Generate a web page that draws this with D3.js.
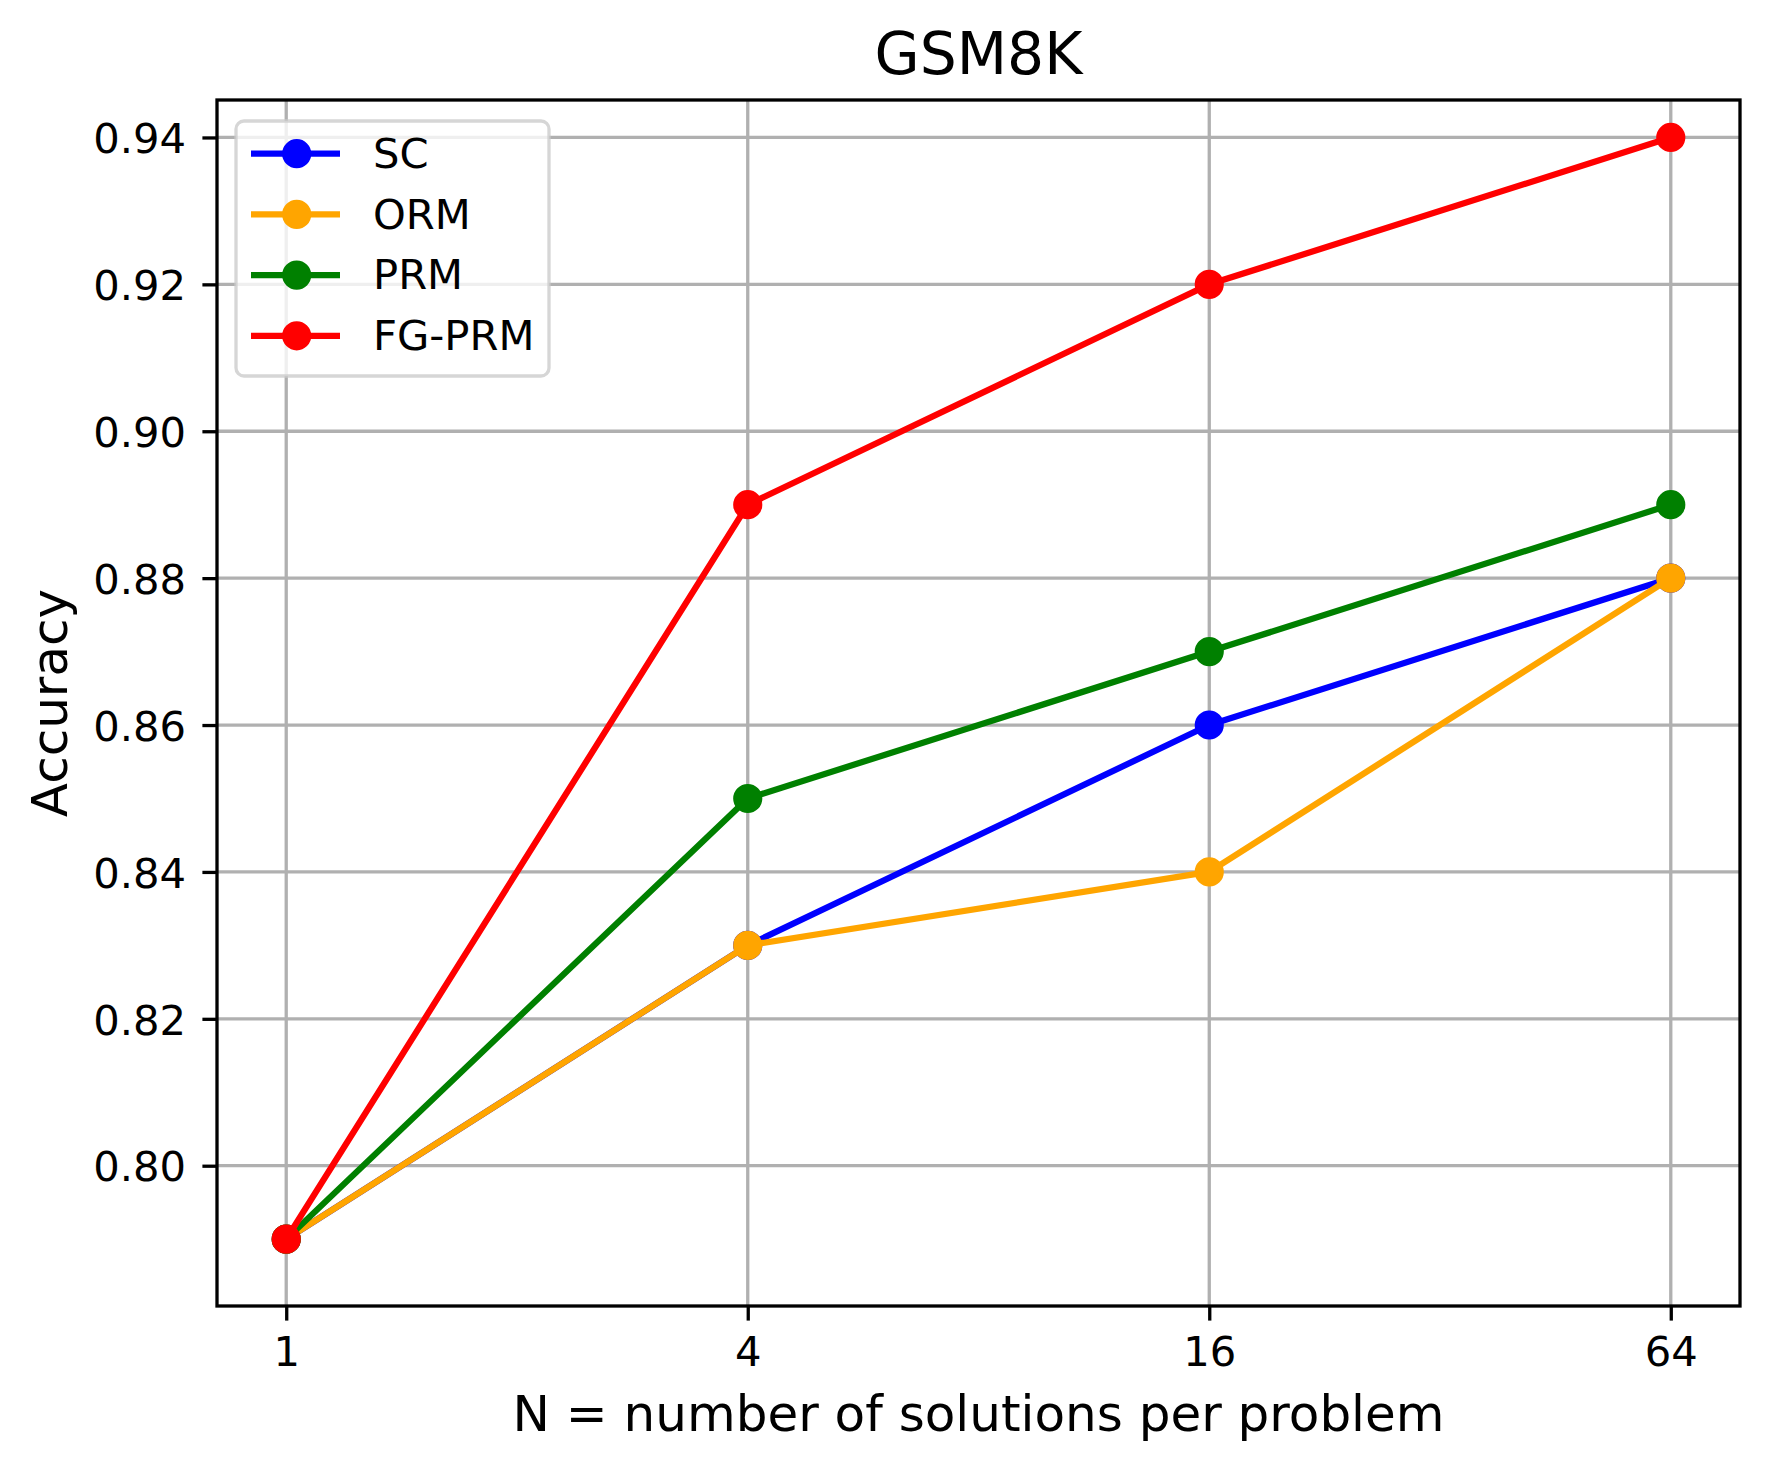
<!DOCTYPE html>
<html>
<head>
<meta charset="utf-8">
<script src="https://cdn.jsdelivr.net/npm/d3@7"></script>
<style>
html,body{margin:0;padding:0;background:#fff;}
svg{display:block;font-family:"DejaVu Sans",sans-serif;}
</style>
</head>
<body>
<svg id="chart" width="1770" height="1470"></svg>
<script>
const nValues = [1, 4, 16, 64];
const xTickLabels = ["1", "4", "16", "64"];
const yTicks = [0.80, 0.82, 0.84, 0.86, 0.88, 0.90, 0.92, 0.94];
const seriesNames = ["SC", "ORM", "PRM", "FG-PRM"];
const scValues = [0.79, 0.83, 0.86, 0.88];
const ormValues = [0.79, 0.83, 0.84, 0.88];
const prmValues = [0.79, 0.85, 0.87, 0.89];
const fgprmValues = [0.79, 0.89, 0.92, 0.94];
const seriesColors = ["#0000ff", "#ffa500", "#008000", "#ff0000"];

const series = [scValues, ormValues, prmValues, fgprmValues].map((vals, i) => ({
  name: seriesNames[i], color: seriesColors[i],
  points: vals.map((v, j) => ({n: nValues[j], v}))
}));

const svg = d3.select("#chart");
const L = 217, R = 1740, T = 100, B = 1306;
const W = R - L, H = B - T;

const x = d3.scaleLog().base(2)
  .domain([Math.pow(2, -0.3), Math.pow(2, 6.3)])
  .range([0, W]);
const y = d3.scaleLinear().domain([0.7809, 0.9451]).range([H, 0]);

const g = svg.append("g").attr("transform", `translate(${L},${T})`);

// grid
g.append("g").selectAll("line.gx").data(nValues).join("line")
  .attr("x1", d => x(d)).attr("x2", d => x(d)).attr("y1", 0).attr("y2", H)
  .attr("stroke", "#b0b0b0").attr("stroke-width", 3.3);
g.append("g").selectAll("line.gy").data(yTicks).join("line")
  .attr("x1", 0).attr("x2", W).attr("y1", d => y(d)).attr("y2", d => y(d))
  .attr("stroke", "#b0b0b0").attr("stroke-width", 3.3);

// lines + markers
const line = d3.line().x(d => x(d.n)).y(d => y(d.v));
series.forEach(s => {
  const sg = g.append("g");
  sg.append("path").datum(s.points).attr("d", line)
    .attr("fill", "none").attr("stroke", s.color).attr("stroke-width", 6.25)
    .attr("stroke-linejoin", "round").attr("stroke-linecap", "square");
  sg.selectAll("circle").data(s.points).join("circle")
    .attr("cx", d => x(d.n)).attr("cy", d => y(d.v)).attr("r", 12.5)
    .attr("fill", s.color).attr("stroke", s.color).attr("stroke-width", 4.17);
});

// axes
const xAxis = d3.axisBottom(x).tickValues(nValues)
  .tickFormat((d, i) => xTickLabels[i]).tickSize(14.6).tickSizeOuter(0);
const xg = g.append("g").attr("transform", `translate(0,${H})`).call(xAxis);
xg.select(".domain").remove();
xg.selectAll(".tick line").attr("stroke", "#000").attr("stroke-width", 3.3);
xg.selectAll(".tick text").attr("y", 59.7).attr("dy", "0")
  .attr("font-size", 41.7).attr("fill", "#000").attr("font-family", "DejaVu Sans");

const yAxis = d3.axisLeft(y).tickValues(yTicks)
  .tickFormat(d3.format(".2f")).tickSize(14.6).tickSizeOuter(0);
const yg = g.append("g").call(yAxis);
yg.select(".domain").remove();
yg.selectAll(".tick line").attr("stroke", "#000").attr("stroke-width", 3.3);
yg.selectAll(".tick text").attr("x", -31).attr("dy", "0.364em")
  .attr("font-size", 41.7).attr("fill", "#000").attr("font-family", "DejaVu Sans");

// spines
g.append("rect").attr("x", 0).attr("y", 0).attr("width", W).attr("height", H)
  .attr("fill", "none").attr("stroke", "#000").attr("stroke-width", 3.3);

// title and labels
svg.append("text").attr("x", L + W / 2).attr("y", 74).attr("text-anchor", "middle")
  .attr("font-size", 58.3).attr("fill", "#000").text("GSM8K");
svg.append("text").attr("x", L + W / 2).attr("y", 1431).attr("text-anchor", "middle")
  .attr("font-size", 50).attr("fill", "#000").text("N = number of solutions per problem");
svg.append("text").attr("transform", `translate(67,${T + H / 2}) rotate(-90)`)
  .attr("text-anchor", "middle").attr("font-size", 50).attr("fill", "#000").text("Accuracy");

// legend
const lg = svg.append("g");
lg.append("rect").attr("x", 236).attr("y", 121).attr("width", 313).attr("height", 255)
  .attr("rx", 8).attr("ry", 8)
  .attr("fill", "#fff").attr("fill-opacity", 0.8)
  .attr("stroke", "#cccccc").attr("stroke-opacity", 0.8).attr("stroke-width", 3.3);
series.forEach((s, i) => {
  const cy = 153.7 + i * 60.7;
  lg.append("line").attr("x1", 251).attr("x2", 340).attr("y1", cy).attr("y2", cy)
    .attr("stroke", s.color).attr("stroke-width", 6.25);
  lg.append("circle").attr("cx", 296.7).attr("cy", cy).attr("r", 12.5)
    .attr("fill", s.color).attr("stroke", s.color).attr("stroke-width", 4.17);
  lg.append("text").attr("x", 373).attr("y", cy + 14.2)
    .attr("font-size", 41.7).attr("fill", "#000").text(s.name);
});
</script>
</body>
</html>
